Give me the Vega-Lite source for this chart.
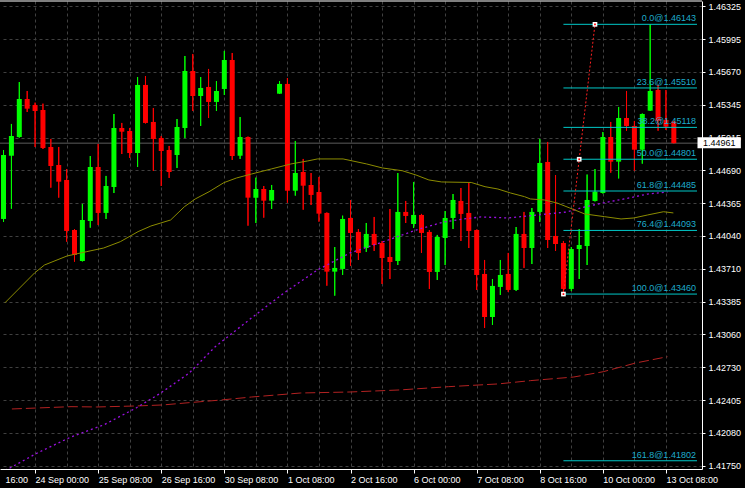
{
 "$schema": "https://vega.github.io/schema/vega-lite/v6.json",
 "width": 702, "height": 468,
 "autosize": {"type": "none"},
 "padding": {"left": 0, "top": 1, "right": 43, "bottom": 19},
 "background": "#000000",
 "config": {"view": {"stroke": null}, "axis": {"labelFont": "Liberation Sans", "labelFontSize": 9}},
 "resolve": {"axis": {"x": "independent", "y": "independent"}},
 "datasets": {
  "ohlc": [
   {"k":-1,"o":1.44207,"h":1.44893,"l":1.44177,"c":1.44843},
   {"k":0,"o":1.44836,"h":1.45152,"l":1.44309,"c":1.45032},
   {"k":1,"o":1.45022,"h":1.45569,"l":1.45015,"c":1.45400},
   {"k":2,"o":1.45400,"h":1.45480,"l":1.45271,"c":1.45304},
   {"k":3,"o":1.45341,"h":1.45364,"l":1.44923,"c":1.45281},
   {"k":4,"o":1.45291,"h":1.45354,"l":1.44903,"c":1.44913},
   {"k":5,"o":1.44923,"h":1.45003,"l":1.44518,"c":1.44734},
   {"k":6,"o":1.44744,"h":1.44923,"l":1.44419,"c":1.44578},
   {"k":7,"o":1.44595,"h":1.44704,"l":1.43981,"c":1.44088},
   {"k":8,"o":1.44097,"h":1.44107,"l":1.43782,"c":1.43849},
   {"k":9,"o":1.43789,"h":1.44356,"l":1.43785,"c":1.44197},
   {"k":10,"o":1.44187,"h":1.44833,"l":1.44120,"c":1.44724},
   {"k":11,"o":1.44724,"h":1.44953,"l":1.44147,"c":1.44267},
   {"k":12,"o":1.44267,"h":1.44635,"l":1.44207,"c":1.44535},
   {"k":13,"o":1.44525,"h":1.45251,"l":1.44465,"c":1.45112},
   {"k":14,"o":1.45112,"h":1.45162,"l":1.44853,"c":1.45075},
   {"k":15,"o":1.45082,"h":1.45112,"l":1.44814,"c":1.44863},
   {"k":16,"o":1.44863,"h":1.45619,"l":1.44724,"c":1.45540},
   {"k":17,"o":1.45540,"h":1.45629,"l":1.45157,"c":1.45162},
   {"k":18,"o":1.45172,"h":1.45311,"l":1.44684,"c":1.45003},
   {"k":19,"o":1.45012,"h":1.45032,"l":1.44535,"c":1.44883},
   {"k":20,"o":1.44893,"h":1.44933,"l":1.44615,"c":1.44674},
   {"k":21,"o":1.44843,"h":1.45201,"l":1.44714,"c":1.45122},
   {"k":22,"o":1.45112,"h":1.45828,"l":1.45012,"c":1.45679},
   {"k":23,"o":1.45679,"h":1.45848,"l":1.45281,"c":1.45430},
   {"k":24,"o":1.45430,"h":1.45619,"l":1.45132,"c":1.45510},
   {"k":25,"o":1.45520,"h":1.45699,"l":1.45211,"c":1.45371},
   {"k":26,"o":1.45371,"h":1.45579,"l":1.45281,"c":1.45480},
   {"k":27,"o":1.45500,"h":1.45878,"l":1.45440,"c":1.45788},
   {"k":28,"o":1.45788,"h":1.45858,"l":1.44794,"c":1.44833},
   {"k":29,"o":1.44836,"h":1.45221,"l":1.44804,"c":1.45022},
   {"k":30,"o":1.45022,"h":1.45027,"l":1.44140,"c":1.44419},
   {"k":31,"o":1.44419,"h":1.44618,"l":1.44167,"c":1.44505},
   {"k":32,"o":1.44505,"h":1.44535,"l":1.44220,"c":1.44389},
   {"k":33,"o":1.44389,"h":1.44545,"l":1.44306,"c":1.44495},
   {"k":34,"o":1.45453,"h":1.45579,"l":1.45450,"c":1.45550},
   {"k":35,"o":1.45550,"h":1.45609,"l":1.44369,"c":1.44488},
   {"k":36,"o":1.44488,"h":1.44983,"l":1.44439,"c":1.44664},
   {"k":37,"o":1.44674,"h":1.44804,"l":1.44299,"c":1.44538},
   {"k":38,"o":1.44545,"h":1.44664,"l":1.44346,"c":1.44446},
   {"k":39,"o":1.44475,"h":1.44625,"l":1.44180,"c":1.44260},
   {"k":40,"o":1.44267,"h":1.44272,"l":1.43543,"c":1.43683},
   {"k":41,"o":1.43683,"h":1.43928,"l":1.43444,"c":1.43720},
   {"k":42,"o":1.43710,"h":1.44240,"l":1.43650,"c":1.44207},
   {"k":43,"o":1.44217,"h":1.44394,"l":1.43739,"c":1.44068},
   {"k":44,"o":1.44078,"h":1.44107,"l":1.43799,"c":1.43869},
   {"k":45,"o":1.43918,"h":1.44167,"l":1.43879,"c":1.44058},
   {"k":46,"o":1.44058,"h":1.44227,"l":1.43889,"c":1.43948},
   {"k":47,"o":1.43968,"h":1.43988,"l":1.43560,"c":1.43819},
   {"k":48,"o":1.43829,"h":1.44306,"l":1.43610,"c":1.43779},
   {"k":49,"o":1.43789,"h":1.44664,"l":1.43749,"c":1.44277},
   {"k":50,"o":1.44277,"h":1.44386,"l":1.44167,"c":1.44237},
   {"k":51,"o":1.44157,"h":1.44575,"l":1.44117,"c":1.44247},
   {"k":52,"o":1.44247,"h":1.44257,"l":1.43869,"c":1.44068},
   {"k":53,"o":1.44078,"h":1.44097,"l":1.43511,"c":1.43680},
   {"k":54,"o":1.43680,"h":1.44048,"l":1.43600,"c":1.44028},
   {"k":55,"o":1.44018,"h":1.44286,"l":1.43749,"c":1.44217},
   {"k":56,"o":1.44217,"h":1.44455,"l":1.44107,"c":1.44396},
   {"k":57,"o":1.44386,"h":1.44515,"l":1.43988,"c":1.44257},
   {"k":58,"o":1.44267,"h":1.44565,"l":1.43918,"c":1.44088},
   {"k":59,"o":1.44097,"h":1.44102,"l":1.43501,"c":1.43650},
   {"k":60,"o":1.43660,"h":1.43799,"l":1.43123,"c":1.43232},
   {"k":61,"o":1.43232,"h":1.43610,"l":1.43153,"c":1.43541},
   {"k":62,"o":1.43531,"h":1.43799,"l":1.43451,"c":1.43650},
   {"k":63,"o":1.43660,"h":1.43869,"l":1.43481,"c":1.43501},
   {"k":64,"o":1.43501,"h":1.44127,"l":1.43491,"c":1.44058},
   {"k":65,"o":1.44058,"h":1.44277,"l":1.43720,"c":1.43918},
   {"k":66,"o":1.43918,"h":1.44316,"l":1.43759,"c":1.44277},
   {"k":67,"o":1.44277,"h":1.45003,"l":1.44177,"c":1.44764},
   {"k":68,"o":1.44774,"h":1.44973,"l":1.43918,"c":1.43998},
   {"k":69,"o":1.44038,"h":1.44644,"l":1.43889,"c":1.43958},
   {"k":70,"o":1.43968,"h":1.43988,"l":1.43460,"c":1.43511},
   {"k":71,"o":1.43511,"h":1.43928,"l":1.43491,"c":1.43908},
   {"k":72,"o":1.43908,"h":1.44107,"l":1.43610,"c":1.43948},
   {"k":73,"o":1.43938,"h":1.44649,"l":1.43749,"c":1.44396},
   {"k":74,"o":1.44386,"h":1.44704,"l":1.44381,"c":1.44478},
   {"k":75,"o":1.44465,"h":1.45072,"l":1.44460,"c":1.45022},
   {"k":76,"o":1.45022,"h":1.45172,"l":1.44667,"c":1.44777},
   {"k":77,"o":1.44777,"h":1.45321,"l":1.44610,"c":1.45211},
   {"k":78,"o":1.45211,"h":1.45480,"l":1.45085,"c":1.45132},
   {"k":79,"o":1.45132,"h":1.45182,"l":1.44687,"c":1.44896},
   {"k":80,"o":1.44896,"h":1.45256,"l":1.44757,"c":1.45251},
   {"k":81,"o":1.45284,"h":1.46143,"l":1.45281,"c":1.45480},
   {"k":82,"o":1.45490,"h":1.45540,"l":1.45085,"c":1.45182},
   {"k":83,"o":1.45191,"h":1.45490,"l":1.45092,"c":1.45125},
   {"k":84,"o":1.45175,"h":1.45182,"l":1.44958,"c":1.44961}
  ],
  "olive": [
   {"k":-0.81,"v":1.43374},{"k":2.94,"v":1.43670},{"k":4.19,"v":1.43749},{"k":7.06,"v":1.43839},
   {"k":9.56,"v":1.43882},{"k":11.69,"v":1.43918},{"k":13.81,"v":1.43981},{"k":16.06,"v":1.44081},
   {"k":17.69,"v":1.44137},{"k":18.94,"v":1.44167},{"k":20.19,"v":1.44197},{"k":21.94,"v":1.44329},
   {"k":23.31,"v":1.44406},{"k":25.06,"v":1.44478},{"k":26.94,"v":1.44568},{"k":28.56,"v":1.44615},
   {"k":30.44,"v":1.44654},{"k":32.94,"v":1.44704},{"k":35.44,"v":1.44754},{"k":37.56,"v":1.44784},
   {"k":38.81,"v":1.44804},{"k":42.06,"v":1.44804},{"k":45.06,"v":1.44754},{"k":47.06,"v":1.44714},
   {"k":49.56,"v":1.44687},{"k":51.31,"v":1.44644},{"k":52.94,"v":1.44595},{"k":54.56,"v":1.44575},
   {"k":58.31,"v":1.44570},{"k":60.06,"v":1.44528},{"k":61.69,"v":1.44505},{"k":63.31,"v":1.44465},
   {"k":65.06,"v":1.44429},{"k":65.81,"v":1.44406},{"k":67.56,"v":1.44396},{"k":69.19,"v":1.44366},
   {"k":70.81,"v":1.44316},{"k":72.69,"v":1.44257},{"k":75.19,"v":1.44230},{"k":77.31,"v":1.44207},
   {"k":78.94,"v":1.44217},{"k":80.69,"v":1.44247},{"k":82.69,"v":1.44279},{"k":83.94,"v":1.44267}
  ],
  "purple": [
   {"k":-0.81,"v":1.41710},{"k":-0.19,"v":1.41730},{"k":3.31,"v":1.41880},{"k":7.56,"v":1.42039},
   {"k":11.69,"v":1.42158},{"k":15.81,"v":1.42327},{"k":18.94,"v":1.42476},{"k":22.56,"v":1.42675},
   {"k":25.81,"v":1.42934},{"k":30.44,"v":1.43222},{"k":34.56,"v":1.43471},{"k":38.81,"v":1.43700},
   {"k":42.94,"v":1.43869},{"k":47.06,"v":1.43978},{"k":51.31,"v":1.44097},{"k":54.81,"v":1.44177},
   {"k":57.31,"v":1.44207},{"k":59.56,"v":1.44227},{"k":62.94,"v":1.44217},{"k":65.44,"v":1.44237},
   {"k":67.94,"v":1.44257},{"k":70.44,"v":1.44277},{"k":72.69,"v":1.44326},{"k":75.19,"v":1.44369},
   {"k":77.69,"v":1.44406},{"k":80.69,"v":1.44455},{"k":83.19,"v":1.44475}
  ],
  "maroon": [
   {"k":0.06,"v":1.42317},{"k":7.56,"v":1.42340},{"k":10.81,"v":1.42337},{"k":15.81,"v":1.42347},
   {"k":19.19,"v":1.42357},{"k":22.56,"v":1.42380},{"k":26.69,"v":1.42407},{"k":30.44,"v":1.42436},
   {"k":36.69,"v":1.42476},{"k":42.94,"v":1.42486},{"k":49.19,"v":1.42506},{"k":55.44,"v":1.42539},
   {"k":61.69,"v":1.42566},{"k":65.81,"v":1.42599},{"k":71.31,"v":1.42635},{"k":75.06,"v":1.42688},
   {"k":79.19,"v":1.42775},{"k":83.19,"v":1.42837}
  ],
  "fib": [
   {"label":"0.0@1.46143","price":1.46143},
   {"label":"23.6@1.45510","price":1.45510},
   {"label":"38.2@1.45118","price":1.45118},
   {"label":"50.0@1.44801","price":1.44801},
   {"label":"61.8@1.44485","price":1.44485},
   {"label":"76.4@1.44093","price":1.44093},
   {"label":"100.0@1.43460","price":1.43460},
   {"label":"161.8@1.41802","price":1.41802}
  ],
  "fibline": [{"k":70,"p":1.43460},{"k":74,"p":1.46143}],
  "fibpts": [{"k":70,"p":1.43460},{"k":72,"p":1.44801},{"k":74,"p":1.46143}],
  "cur": [{"price":1.44961}]
 },
 "layer": [
  {
   "data": {"name": "ohlc"},
   "mark": {"type": "rule", "strokeWidth": 1, "clip": true},
   "encoding": {
    "x": {"field": "k", "type": "quantitative", "scale": {"domain": [-0.8125, 86.9375], "nice": false, "zero": false},
     "axis": {
      "values": [-0.8125,3,7,11,15,19,23,27,31,35,39,43,47,51,55,59,63,67,71,75,79,83],
      "labelExpr": "datum.value < 0 ? '16:00' : ((datum.value - 3) % 8 == 0 ? ['24 Sep 00:00','25 Sep 08:00','26 Sep 16:00','30 Sep 08:00','1 Oct 08:00','2 Oct 16:00','6 Oct 00:00','7 Oct 08:00','8 Oct 16:00','10 Oct 00:00','13 Oct 08:00'][(datum.value - 3) / 8] : '')",
      "labelAlign": "left", "labelBaseline": "middle", "labelPadding": 6,
      "labelColor": "#ffffff", "labelFont": "Liberation Sans", "labelFontSize": 9,
      "labelOverlap": false, "labelFlush": false, "labelBound": false,
      "tickSize": 4, "tickColor": "#ffffff",
      "tickOpacity": {"condition": {"test": "datum.value >= 3 && (datum.value - 3) % 8 == 0", "value": 1}, "value": 0},
      "grid": true, "gridColor": "#404040", "gridDash": [3, 3],
      "gridOpacity": {"condition": {"test": "datum.value > 0", "value": 1}, "value": 0},
      "domainColor": "#ffffff", "title": null
     }
    },
    "y": {"field": "l", "type": "quantitative", "scale": {"domain": [1.4172, 1.46375], "nice": false, "zero": false},
     "axis": {
      "orient": "right",
      "values": [1.4175,1.4208,1.42405,1.4273,1.4306,1.43385,1.4371,1.4404,1.44365,1.4469,1.45015,1.45345,1.4567,1.45995,1.46325],
      "format": ".5f", "labelColor": "#ffffff", "labelFont": "Liberation Sans", "labelFontSize": 9,
      "labelPadding": 3, "tickSize": 3, "tickColor": "#ffffff",
      "labelOverlap": false, "labelBound": false, "labelFlush": false,
      "grid": true, "gridColor": "#404040", "gridDash": [3, 3],
      "domainColor": "#ffffff", "title": null
     }
    },
    "y2": {"field": "h"},
    "color": {"condition": {"test": "datum.c >= datum.o", "value": "#00ff00"}, "value": "#ff0000"}
   }
  },
  {
   "data": {"name": "cur"},
   "mark": {"type": "rule", "color": "#5c5c5c", "strokeWidth": 1},
   "encoding": {
    "y": {"field": "price", "type": "quantitative", "scale": {"domain": [1.4172, 1.46375], "nice": false, "zero": false}, "axis": null}
   }
  },
  {
   "data": {"name": "ohlc"},
   "mark": {"type": "rule", "strokeWidth": 1, "clip": true},
   "encoding": {
    "x": {"field": "k", "type": "quantitative", "scale": {"domain": [-0.8125, 86.9375], "nice": false, "zero": false}, "axis": null},
    "y": {"field": "l", "type": "quantitative", "scale": {"domain": [1.4172, 1.46375], "nice": false, "zero": false}, "axis": null},
    "y2": {"field": "h"},
    "color": {"condition": {"test": "datum.c >= datum.o", "value": "#00ff00"}, "value": "#ff0000"}
   }
  },
  {
   "data": {"name": "ohlc"},
   "mark": {"type": "bar", "width": 5, "clip": true},
   "encoding": {
    "x": {"field": "k", "type": "quantitative", "scale": {"domain": [-0.8125, 86.9375], "nice": false, "zero": false}, "axis": null},
    "y": {"field": "o", "type": "quantitative", "scale": {"domain": [1.4172, 1.46375], "nice": false, "zero": false}, "axis": null},
    "y2": {"field": "c"},
    "color": {"condition": {"test": "datum.c >= datum.o", "value": "#00ff00"}, "value": "#ff0000"}
   }
  },
  {
   "data": {"name": "maroon"},
   "mark": {"type": "line", "color": "#b22222", "strokeWidth": 1, "strokeDash": [10, 4], "clip": true},
   "encoding": {
    "x": {"field": "k", "type": "quantitative", "scale": {"domain": [-0.8125, 86.9375], "nice": false, "zero": false}, "axis": null},
    "y": {"field": "v", "type": "quantitative", "scale": {"domain": [1.4172, 1.46375], "nice": false, "zero": false}, "axis": null}
   }
  },
  {
   "data": {"name": "purple"},
   "mark": {"type": "line", "color": "#9a10e0", "strokeWidth": 1.3, "strokeDash": [2, 3], "clip": true},
   "encoding": {
    "x": {"field": "k", "type": "quantitative", "scale": {"domain": [-0.8125, 86.9375], "nice": false, "zero": false}, "axis": null},
    "y": {"field": "v", "type": "quantitative", "scale": {"domain": [1.4172, 1.46375], "nice": false, "zero": false}, "axis": null}
   }
  },
  {
   "data": {"name": "olive"},
   "mark": {"type": "line", "color": "#8c8c00", "strokeWidth": 1, "clip": true},
   "encoding": {
    "x": {"field": "k", "type": "quantitative", "scale": {"domain": [-0.8125, 86.9375], "nice": false, "zero": false}, "axis": null},
    "y": {"field": "v", "type": "quantitative", "scale": {"domain": [1.4172, 1.46375], "nice": false, "zero": false}, "axis": null}
   }
  },
  {
   "data": {"name": "fib"},
   "mark": {"type": "rule", "color": "#00c8c8", "strokeWidth": 1},
   "encoding": {
    "x": {"datum": 70, "type": "quantitative", "axis": null},
    "x2": {"datum": 86.9375},
    "y": {"field": "price", "type": "quantitative", "scale": {"domain": [1.4172, 1.46375], "nice": false, "zero": false}, "axis": null}
   }
  },
  {
   "data": {"name": "fib"},
   "mark": {"type": "text", "align": "right", "baseline": "alphabetic", "dy": -3, "color": "#1eaccc", "font": "Liberation Sans", "fontSize": 9},
   "encoding": {
    "x": {"datum": 86.8, "type": "quantitative", "axis": null},
    "y": {"field": "price", "type": "quantitative", "scale": {"domain": [1.4172, 1.46375], "nice": false, "zero": false}, "axis": null},
    "text": {"field": "label", "type": "nominal"}
   }
  },
  {
   "data": {"name": "fibline"},
   "mark": {"type": "line", "color": "#ff2020", "strokeWidth": 1, "strokeDash": [2, 2]},
   "encoding": {
    "x": {"field": "k", "type": "quantitative", "scale": {"domain": [-0.8125, 86.9375], "nice": false, "zero": false}, "axis": null},
    "y": {"field": "p", "type": "quantitative", "scale": {"domain": [1.4172, 1.46375], "nice": false, "zero": false}, "axis": null}
   }
  },
  {
   "data": {"name": "fibpts"},
   "mark": {"type": "point", "shape": "square", "filled": true, "size": 22, "color": "#ffffff", "opacity": 1},
   "encoding": {
    "x": {"field": "k", "type": "quantitative", "scale": {"domain": [-0.8125, 86.9375], "nice": false, "zero": false}, "axis": null},
    "y": {"field": "p", "type": "quantitative", "scale": {"domain": [1.4172, 1.46375], "nice": false, "zero": false}, "axis": null}
   }
  },
  {
   "data": {"name": "fibpts"},
   "mark": {"type": "point", "shape": "square", "filled": true, "size": 3, "color": "#ff0000", "opacity": 1},
   "encoding": {
    "x": {"field": "k", "type": "quantitative", "scale": {"domain": [-0.8125, 86.9375], "nice": false, "zero": false}, "axis": null},
    "y": {"field": "p", "type": "quantitative", "scale": {"domain": [1.4172, 1.46375], "nice": false, "zero": false}, "axis": null}
   }
  },
  {
   "data": {"values": [{}]},
   "mark": {"type": "rule", "color": "#ffffff", "strokeWidth": 1},
   "encoding": {
    "y": {"datum": 1.46375, "type": "quantitative", "axis": null}
   }
  },
  {
   "data": {"name": "cur"},
   "mark": {"type": "rect", "color": "#ffffff", "clip": false},
   "encoding": {
    "x": {"datum": 87.0, "type": "quantitative", "axis": null},
    "x2": {"datum": 92.5},
    "y": {"datum": 1.45019, "type": "quantitative", "axis": null},
    "y2": {"datum": 1.4491}
   }
  },
  {
   "data": {"name": "cur"},
   "mark": {"type": "text", "align": "left", "baseline": "middle", "color": "#000000", "font": "Liberation Sans", "fontSize": 9, "clip": false},
   "encoding": {
    "x": {"datum": 87.7, "type": "quantitative", "axis": null},
    "y": {"field": "price", "type": "quantitative", "scale": {"domain": [1.4172, 1.46375], "nice": false, "zero": false}, "axis": null},
    "text": {"field": "price", "type": "quantitative", "format": ".5f"}
   }
  }
 ]
}
